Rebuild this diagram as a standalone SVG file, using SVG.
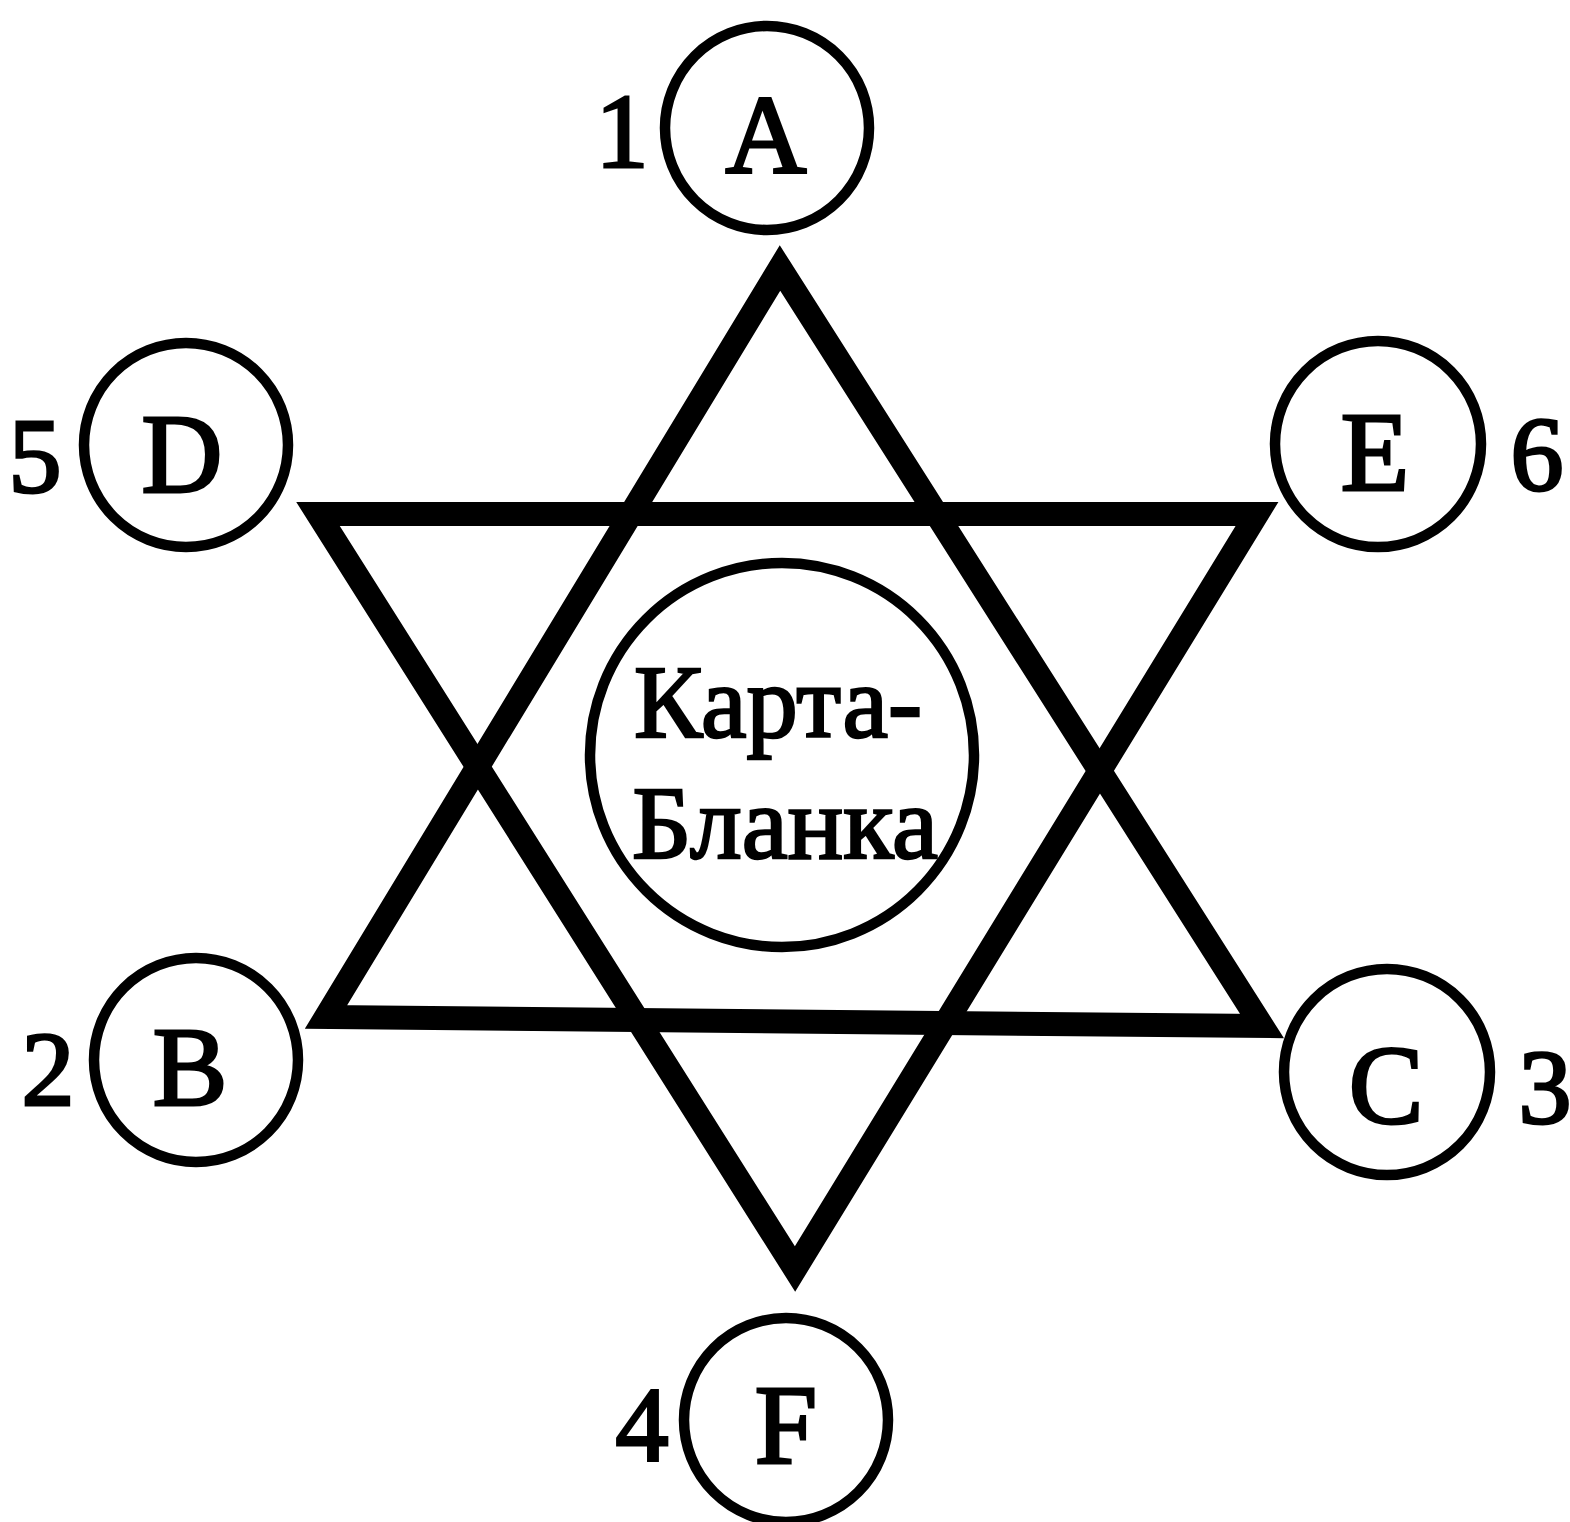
<svg xmlns="http://www.w3.org/2000/svg" width="1570" height="1522" viewBox="0 0 1570 1522">
  <style>
    .ring { fill: none; stroke: #000; stroke-width: 10.5; }
    .tri { fill: none; stroke: #000; stroke-width: 24; stroke-linejoin: miter; stroke-miterlimit: 10; }
    .letter { font-family: "Liberation Serif", "Times New Roman", serif; font-size: 112px; fill: #000; stroke: #000; stroke-width: 3; text-anchor: middle; }
    .num { font-family: "Liberation Serif", "Times New Roman", serif; font-size: 106px; fill: #000; stroke: #000; stroke-width: 3; text-anchor: middle; }
    .center { font-family: "Liberation Serif", "Times New Roman", serif; font-size: 104px; fill: #000; stroke: #000; stroke-width: 2.5; text-anchor: middle; }
  </style>
  <rect width="1570" height="1522" fill="#fff"/>

  <g id="star">
    <polygon class="tri" points="780,268 1262,1026 326,1017"/>
    <polygon class="tri" points="318,514 1257,514 795,1269"/>
  </g>

  <g id="node-center">
    <circle class="ring" cx="782" cy="755" r="192"/>
    <text class="center" x="778" y="737" textLength="288" lengthAdjust="spacingAndGlyphs">Карта-</text>
    <text class="center" x="785" y="858" textLength="306" lengthAdjust="spacingAndGlyphs">Бланка</text>
  </g>

  <g id="node-A">
    <circle class="ring" cx="767" cy="128" r="102"/>
    <text class="letter" x="766" y="173">A</text>
    <text class="num" x="622" y="167">1</text>
  </g>

  <g id="node-D">
    <circle class="ring" cx="186" cy="445" r="102"/>
    <text class="letter" x="182" y="492">D</text>
    <text class="num" x="35" y="492">5</text>
  </g>

  <g id="node-E">
    <circle class="ring" cx="1378" cy="444" r="103"/>
    <text class="letter" x="1375" y="490">E</text>
    <text class="num" x="1537" y="490">6</text>
  </g>

  <g id="node-B">
    <circle class="ring" cx="196" cy="1060" r="102"/>
    <text class="letter" x="190" y="1105">B</text>
    <text class="num" x="48" y="1105">2</text>
  </g>

  <g id="node-C">
    <circle class="ring" cx="1387" cy="1072" r="103"/>
    <text class="letter" x="1386" y="1123">C</text>
    <text class="num" x="1545" y="1123">3</text>
  </g>

  <g id="node-F">
    <circle class="ring" cx="786" cy="1420" r="102"/>
    <text class="letter" x="786" y="1463">F</text>
    <text class="num" x="642" y="1460">4</text>
  </g>
</svg>
